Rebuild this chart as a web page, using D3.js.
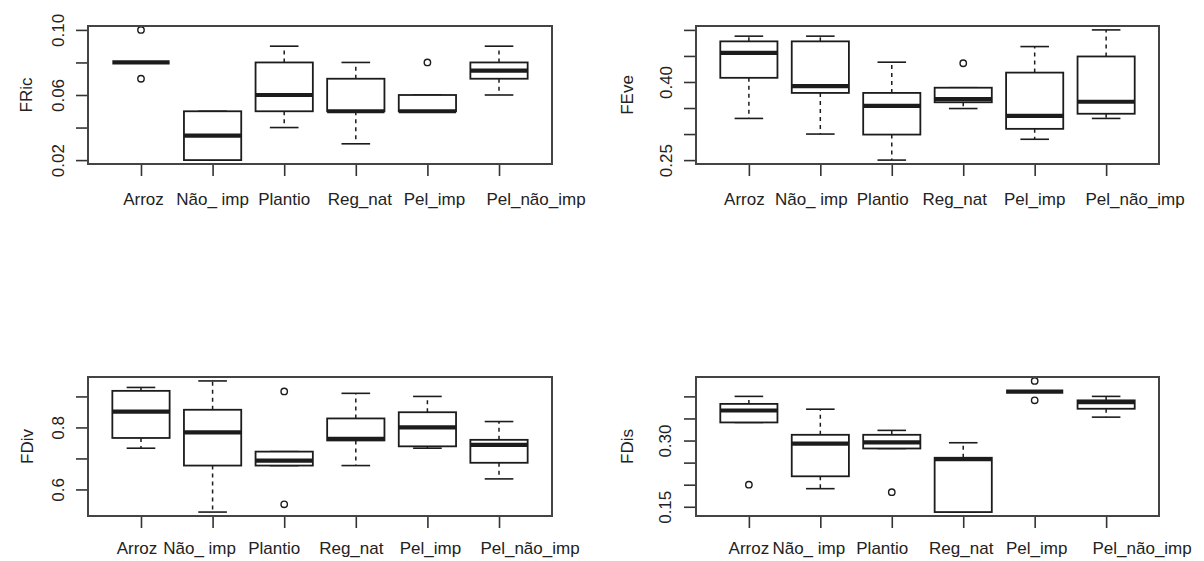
<!DOCTYPE html>
<html>
<head>
<meta charset="utf-8">
<script src="https://cdn.jsdelivr.net/npm/d3@7"></script>
<style>
  html, body { margin: 0; padding: 0; background: #ffffff; }
  svg { display: block; }
  text { font-family: "Liberation Sans", Arial, sans-serif; fill: #222; }
</style>
</head>
<body>
<svg id="chart" width="1204" height="561"></svg>
<script>
// Treatments shared by all four panels
const categories = ["Arroz", "Não_ imp", "Plantio", "Reg_nat", "Pel_imp", "Pel_não_imp"];

// Box statistics per treatment: [lower whisker, Q1, median, Q3, upper whisker]
const fricStats = [
  [0.080, 0.080, 0.080, 0.080, 0.080],
  [0.020, 0.020, 0.035, 0.050, 0.050],
  [0.040, 0.050, 0.060, 0.080, 0.090],
  [0.030, 0.050, 0.050, 0.070, 0.080],
  [0.050, 0.050, 0.050, 0.060, 0.060],
  [0.060, 0.070, 0.075, 0.080, 0.090]
];
const fricOutliers = [[0.100, 0.070], [], [], [], [0.080], []];
const fricTicks = [0.02, 0.04, 0.06, 0.08, 0.10];
const fricTickLabels = ["0.02", "", "0.06", "", "0.10"];

const feveStats = [
  [0.330, 0.408, 0.456, 0.478, 0.488],
  [0.300, 0.379, 0.392, 0.478, 0.488],
  [0.250, 0.299, 0.354, 0.379, 0.438],
  [0.349, 0.361, 0.367, 0.389, 0.389],
  [0.290, 0.310, 0.335, 0.418, 0.468],
  [0.330, 0.339, 0.362, 0.449, 0.500]
];
const feveOutliers = [[], [], [], [0.436], [], []];
const feveTicks = [0.25, 0.30, 0.35, 0.40, 0.45, 0.50];
const feveTickLabels = ["0.25", "", "", "0.40", "", ""];

const fdivStats = [
  [0.733, 0.766, 0.851, 0.918, 0.929],
  [0.527, 0.677, 0.784, 0.857, 0.950],
  [0.677, 0.677, 0.693, 0.722, 0.722],
  [0.677, 0.758, 0.763, 0.829, 0.910],
  [0.733, 0.739, 0.800, 0.849, 0.900],
  [0.634, 0.686, 0.744, 0.760, 0.819]
];
const fdivOutliers = [[], [], [0.916, 0.552], [], [], []];
const fdivTicks = [0.6, 0.7, 0.8, 0.9];
const fdivTickLabels = ["0.6", "", "0.8", ""];

const fdisStats = [
  [0.341, 0.341, 0.368, 0.383, 0.400],
  [0.191, 0.219, 0.293, 0.313, 0.371],
  [0.282, 0.282, 0.296, 0.313, 0.323],
  [0.138, 0.138, 0.258, 0.261, 0.295],
  [0.411, 0.411, 0.411, 0.411, 0.411],
  [0.353, 0.372, 0.387, 0.391, 0.400]
];
const fdisOutliers = [[0.200], [], [0.183], [], [0.435, 0.391], []];
const fdisTicks = [0.15, 0.20, 0.25, 0.30, 0.35, 0.40];
const fdisTickLabels = ["0.15", "", "", "0.30", "", ""];

// Panel geometry (plot frame, label placement)
const panels = [
  { title: "FRic", stats: fricStats, outliers: fricOutliers, ticks: fricTicks, tickLabels: fricTickLabels,
    left: 88, top: 26, width: 464, height: 138, titleX: 32, tickLabelX: 64, catY: 205,
    catShift: [2.5, 0, 0, 4, 7, 37] },
  { title: "FEve", stats: feveStats, outliers: feveOutliers, ticks: feveTicks, tickLabels: feveTickLabels,
    left: 696, top: 26, width: 463, height: 138, titleX: 633, tickLabelX: 672, catY: 205,
    catShift: [-4.5, -9, -9, -8.5, 0, 29] },
  { title: "FDiv", stats: fdivStats, outliers: fdivOutliers, ticks: fdivTicks, tickLabels: fdivTickLabels,
    left: 88, top: 377, width: 464, height: 139, titleX: 33, tickLabelX: 64, catY: 554,
    catShift: [-4, -13, -10, -4.5, 3, 31] },
  { title: "FDis", stats: fdisStats, outliers: fdisOutliers, ticks: fdisTicks, tickLabels: fdisTickLabels,
    left: 696, top: 377, width: 463, height: 139, titleX: 633, tickLabelX: 671, catY: 554,
    catShift: [0, -11.5, -9.5, -2, 2, 36] }
];

const svg = d3.select("#chart");
const ink = "#1c1c1c";
const fontSize = 17;

panels.forEach(p => {
  const n = categories.length;
  const xPad = 0.04 * n;
  const x = d3.scaleLinear()
    .domain([0.5 - xPad, n + 0.5 + xPad])
    .range([p.left, p.left + p.width]);

  const values = p.stats.flat().concat(p.outliers.flat());
  const [lo, hi] = d3.extent(values);
  const yPad = 0.03 * (hi - lo);
  const y = d3.scaleLinear()
    .domain([lo - yPad, hi + yPad])
    .range([p.top + p.height, p.top]);

  const g = svg.append("g");

  // y axis: ticks, with rotated labels on a subset
  const yAxis = g.append("g")
    .attr("transform", `translate(${p.left},0)`)
    .call(d3.axisLeft(y).tickValues(p.ticks).tickSize(12).tickSizeOuter(0)
      .tickFormat((d, i) => p.tickLabels[i]));
  yAxis.select(".domain").remove();
  yAxis.selectAll(".tick line").attr("stroke", "#333").attr("stroke-width", 1.6);
  yAxis.selectAll(".tick text")
    .attr("x", null).attr("dy", null)
    .attr("text-anchor", "middle")
    .attr("transform", `translate(${p.tickLabelX - p.left},0) rotate(-90)`)
    .style("font-size", fontSize + "px")
    .style("font-family", '"Liberation Sans", Arial, sans-serif')
    .attr("fill", "#222");

  // x axis ticks at the treatment positions
  const xAxis = g.append("g")
    .attr("transform", `translate(0,${p.top + p.height})`)
    .call(d3.axisBottom(x).tickValues(d3.range(1, n + 1)).tickSize(12).tickSizeOuter(0).tickFormat(""));
  xAxis.select(".domain").remove();
  xAxis.selectAll(".tick line").attr("stroke", "#333").attr("stroke-width", 1.6);

  // treatment labels
  g.selectAll("text.cat")
    .data(categories)
    .join("text")
    .attr("class", "cat")
    .attr("x", (d, i) => x(i + 1) + p.catShift[i])
    .attr("y", p.catY)
    .attr("text-anchor", "middle")
    .style("font-size", fontSize + "px")
    .text(d => d);

  // y axis title
  g.append("text")
    .attr("transform", `translate(${p.titleX},${y((lo + hi) / 2)}) rotate(-90)`)
    .attr("text-anchor", "middle")
    .style("font-size", fontSize + "px")
    .text(p.title);

  const half = x(1.4) - x(1);
  const stapleHalf = x(1.2) - x(1);

  const box = g.selectAll("g.box")
    .data(p.stats)
    .join("g")
    .attr("class", "box");

  // whiskers (dashed) and staples
  box.append("line")
    .attr("x1", (d, i) => x(i + 1)).attr("x2", (d, i) => x(i + 1))
    .attr("y1", d => y(d[3])).attr("y2", d => y(d[4]))
    .attr("stroke", ink).attr("stroke-width", 1.5).attr("stroke-dasharray", "4,4");
  box.append("line")
    .attr("x1", (d, i) => x(i + 1)).attr("x2", (d, i) => x(i + 1))
    .attr("y1", d => y(d[1])).attr("y2", d => y(d[0]))
    .attr("stroke", ink).attr("stroke-width", 1.5).attr("stroke-dasharray", "4,4");
  box.append("line")
    .attr("x1", (d, i) => x(i + 1) - stapleHalf).attr("x2", (d, i) => x(i + 1) + stapleHalf)
    .attr("y1", d => y(d[4])).attr("y2", d => y(d[4]))
    .attr("stroke", ink).attr("stroke-width", 1.6);
  box.append("line")
    .attr("x1", (d, i) => x(i + 1) - stapleHalf).attr("x2", (d, i) => x(i + 1) + stapleHalf)
    .attr("y1", d => y(d[0])).attr("y2", d => y(d[0]))
    .attr("stroke", ink).attr("stroke-width", 1.6);

  // interquartile box
  box.append("rect")
    .attr("x", (d, i) => x(i + 1) - half)
    .attr("width", 2 * half)
    .attr("y", d => y(d[3]))
    .attr("height", d => Math.max(0, y(d[1]) - y(d[3])))
    .attr("fill", "#fff")
    .attr("stroke", ink).attr("stroke-width", 1.8);

  // median
  box.append("line")
    .attr("x1", (d, i) => x(i + 1) - half).attr("x2", (d, i) => x(i + 1) + half)
    .attr("y1", d => y(d[2])).attr("y2", d => y(d[2]))
    .attr("stroke", ink).attr("stroke-width", 4.2);

  // outliers
  p.outliers.forEach((outs, i) => {
    g.selectAll(null)
      .data(outs)
      .join("circle")
      .attr("cx", x(i + 1))
      .attr("cy", d => y(d))
      .attr("r", 3.2)
      .attr("fill", "none")
      .attr("stroke", ink)
      .attr("stroke-width", 1.4);
  });

  // plot frame
  g.append("rect")
    .attr("x", p.left).attr("y", p.top)
    .attr("width", p.width).attr("height", p.height)
    .attr("fill", "none")
    .attr("stroke", "#444").attr("stroke-width", 2);
});
</script>
</body>
</html>
